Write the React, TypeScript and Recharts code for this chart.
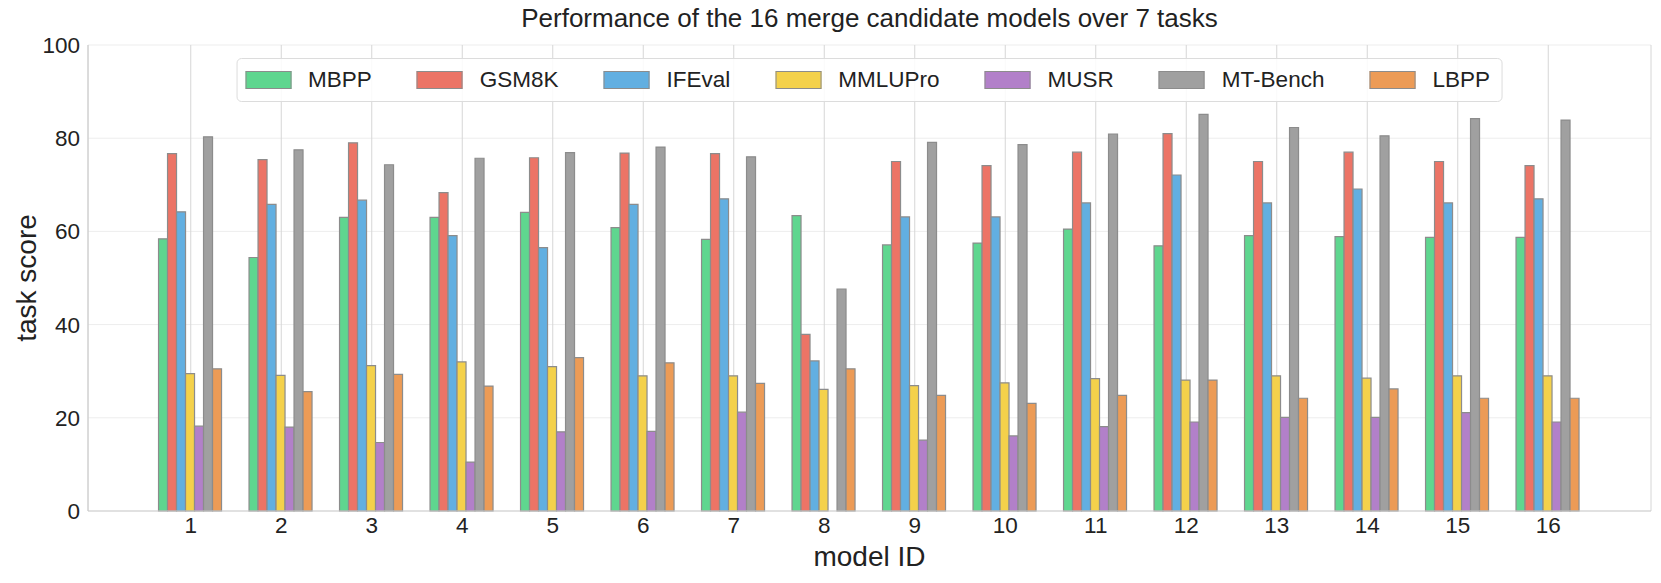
import React from 'react';
import { BarChart, Bar, XAxis, YAxis, CartesianGrid } from 'recharts';

const MODEL_IDS = ['1', '2', '3', '4', '5', '6', '7', '8', '9', '10', '11', '12', '13', '14', '15', '16'];

const MBPP = [58.4, 54.4, 63.0, 63.0, 64.1, 60.8, 58.3, 63.4, 57.1, 57.5, 60.5, 56.9, 59.1, 58.9, 58.7, 58.7];
const GSM8K = [76.7, 75.4, 79.0, 68.3, 75.8, 76.8, 76.7, 37.9, 75.0, 74.1, 77.0, 81.0, 75.0, 77.0, 75.0, 74.1];
const IFEVAL = [64.2, 65.8, 66.7, 59.1, 56.5, 65.8, 67.0, 32.2, 63.1, 63.1, 66.1, 72.1, 66.1, 69.1, 66.1, 67.0];
const MMLUPRO = [29.5, 29.1, 31.2, 32.0, 31.0, 29.0, 29.0, 26.1, 26.9, 27.5, 28.4, 28.1, 29.0, 28.5, 29.0, 29.0];
const MUSR = [18.2, 18.0, 14.7, 10.5, 17.0, 17.1, 21.2, 0, 15.2, 16.1, 18.1, 19.1, 20.1, 20.1, 21.1, 19.1];
const MTBENCH = [80.3, 77.5, 74.3, 75.7, 76.9, 78.1, 76.0, 47.6, 79.1, 78.6, 80.9, 85.1, 82.3, 80.5, 84.2, 83.9];
const LBPP = [30.5, 25.6, 29.3, 26.8, 32.9, 31.8, 27.4, 30.5, 24.8, 23.1, 24.8, 28.1, 24.2, 26.2, 24.2, 24.2];

const SERIES = [
  { key: 'MBPP', values: MBPP, color: '#5fd68f' },
  { key: 'GSM8K', values: GSM8K, color: '#ec7466' },
  { key: 'IFEval', values: IFEVAL, color: '#62afe1' },
  { key: 'MMLUPro', values: MMLUPRO, color: '#f4d14b' },
  { key: 'MUSR', values: MUSR, color: '#b280c9' },
  { key: 'MT-Bench', values: MTBENCH, color: '#a0a0a0' },
  { key: 'LBPP', values: LBPP, color: '#ec9b56' },
];

const Y_TICKS = [0, 20, 40, 60, 80, 100];

const FONT = '"Liberation Sans", Arial, Helvetica, sans-serif';
const W = 1661;
const H = 583;
const MARGIN = { top: 45, right: 10, bottom: 0, left: 0 };
const Y_AXIS_W = 88;
const X_AXIS_H = 72;

const data = MODEL_IDS.map((id, i) => {
  const row: Record<string, string | number> = { id };
  SERIES.forEach((s) => {
    row[s.key] = s.values[i];
  });
  return row;
});

const plotCenter = MARGIN.left + Y_AXIS_W + (W - MARGIN.left - Y_AXIS_W - MARGIN.right) / 2;

function YLabel(props: any) {
  const { viewBox } = props;
  const cx = 26;
  const cy = viewBox.y + viewBox.height / 2;
  return (
    <text x={cx} y={cy} transform={`rotate(-90 ${cx} ${cy})`} textAnchor="middle" dominantBaseline="central"
      fontSize={28} fill="#222" fontFamily={FONT}>
      task score
    </text>
  );
}

function XLabel(props: any) {
  const { viewBox } = props;
  const cx = viewBox.x + viewBox.width / 2;
  return (
    <text x={cx} y={viewBox.y + 45} textAnchor="middle" dominantBaseline="central"
      fontSize={28} fill="#222" fontFamily={FONT}>
      model ID
    </text>
  );
}

function LegendBox() {
  return (
    <div
      style={{
        position: 'absolute',
        top: 58,
        left: plotCenter,
        transform: 'translateX(-50%)',
        display: 'flex',
        alignItems: 'center',
        padding: '9px 12px 9px 8px',
        border: '1px solid #dcdcdc',
        borderRadius: 5,
        background: 'rgba(255,255,255,0.85)',
        fontFamily: FONT,
        fontSize: 22.5,
        lineHeight: '24px',
        color: '#222',
        whiteSpace: 'nowrap',
      }}
    >
      {SERIES.map((s, i) => (
        <div key={s.key} style={{ display: 'flex', alignItems: 'center', marginLeft: i === 0 ? 0 : 45 }}>
          <span
            style={{
              display: 'inline-block',
              boxSizing: 'border-box',
              width: 46,
              height: 18,
              background: s.color,
              border: '1.5px solid #8c8c8c',
            }}
          />
          <span style={{ marginLeft: 17 }}>{s.key}</span>
        </div>
      ))}
    </div>
  );
}

export default function App() {
  return (
    <div style={{ position: 'absolute', left: 0, top: 0, width: W, height: H, background: '#fff' }}>
      <div
        style={{
          position: 'absolute',
          top: 4,
          left: plotCenter,
          transform: 'translateX(-50%)',
          fontFamily: FONT,
          fontSize: 26,
          lineHeight: '28px',
          color: '#222',
          whiteSpace: 'nowrap',
        }}
      >
        Performance of the 16 merge candidate models over 7 tasks
      </div>
      <BarChart
        width={W}
        height={H}
        data={data}
        margin={MARGIN}
        barCategoryGap="14.4%"
        barGap={0}
      >
        <CartesianGrid horizontal vertical={false} stroke="#ededed" strokeWidth={1} />
        <CartesianGrid horizontal={false} vertical stroke="#d6d6d6" strokeWidth={1} />
        <XAxis
          dataKey="id"
          height={X_AXIS_H}
          padding={{ left: 57.5, right: 57.5 }}
          tickSize={0}
          tickMargin={6}
          tick={{ fontSize: 22.5, fill: '#222', fontFamily: FONT }}
          axisLine={{ stroke: '#cccccc' }}
          label={<XLabel />}
          interval={0}
        />
        <XAxis
          xAxisId="top"
          dataKey="id"
          orientation="top"
          height={0}
          tick={false}
          tickLine={false}
          axisLine={{ stroke: '#cccccc' }}
        />
        <YAxis
          width={Y_AXIS_W}
          domain={[0, 100]}
          ticks={Y_TICKS}
          tickSize={0}
          tickMargin={8}
          tick={{ fontSize: 22.5, fill: '#222', fontFamily: FONT }}
          axisLine={{ stroke: '#cccccc' }}
          label={<YLabel />}
        />
        <YAxis
          yAxisId="right"
          orientation="right"
          width={0}
          domain={[0, 100]}
          tick={false}
          tickLine={false}
          axisLine={{ stroke: '#cccccc' }}
        />
        {SERIES.map((s) => (
          <Bar
            key={s.key}
            dataKey={s.key}
            fill={s.color}
            stroke="#8c8c8c"
            strokeWidth={1.2}
            isAnimationActive={false}
          />
        ))}
      </BarChart>
      <LegendBox />
    </div>
  );
}
